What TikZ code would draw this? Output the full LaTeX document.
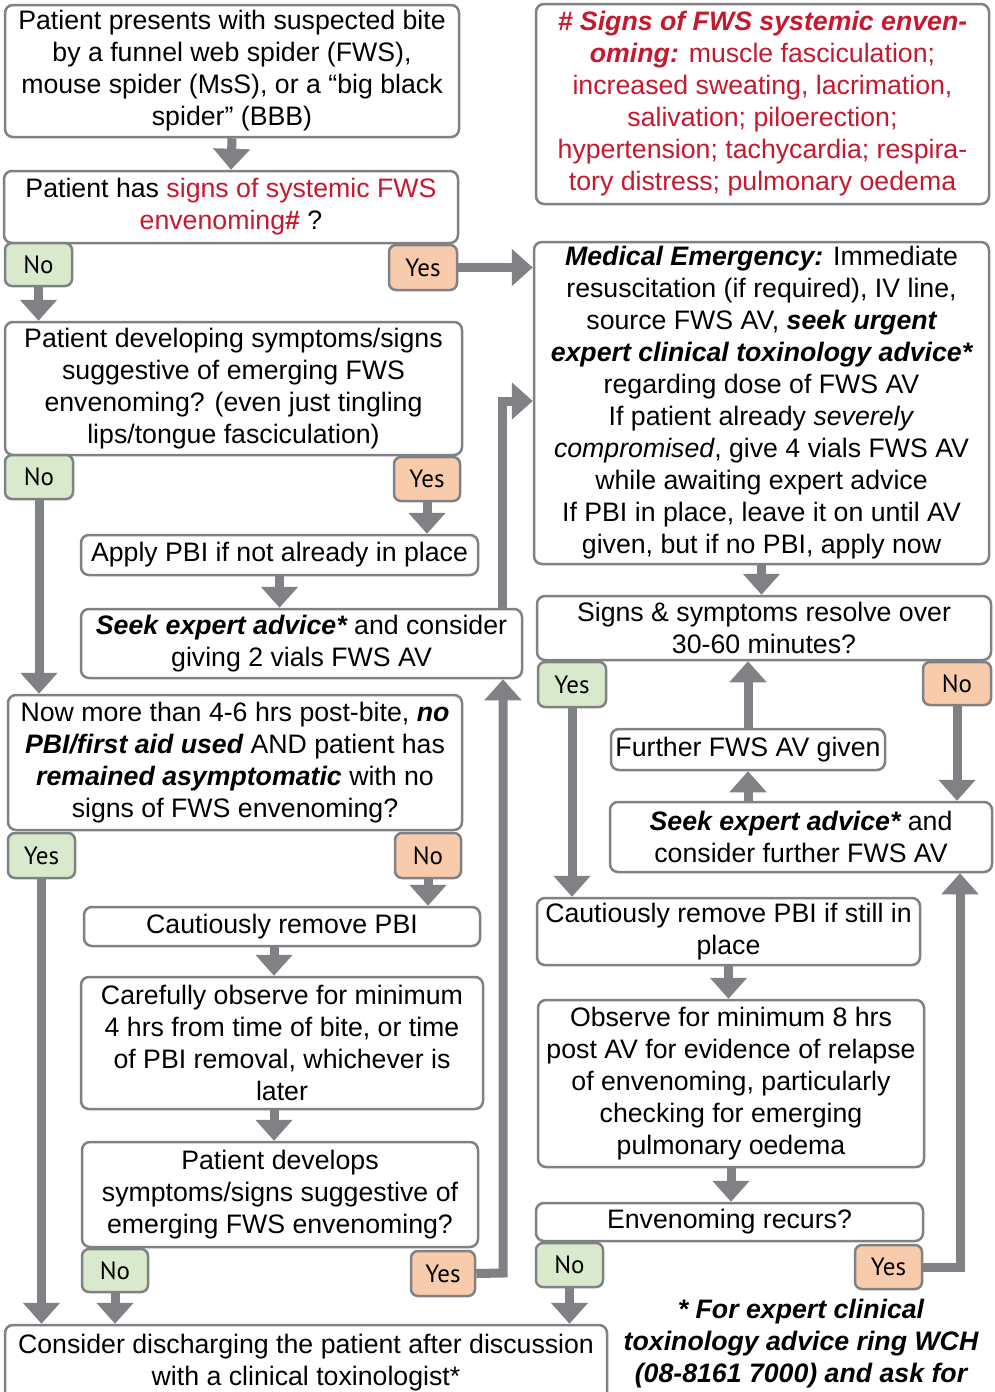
\documentclass[tikz,border=0pt]{standalone}
\usepackage{fontspec}
\setmainfont{Liberation Sans}
\newfontfamily\ynfont{PT Sans}
\usetikzlibrary{arrows.meta}
\definecolor{lg}{RGB}{128,129,132}
\definecolor{rd}{RGB}{200,24,46}
\definecolor{yesc}{RGB}{248,203,173}
\definecolor{noc}{RGB}{217,234,204}
\newcommand\bx[6]{\node[box,minimum width={#4-#2},minimum height={#5-#3}] (#1) at ({(#2+#4)/2},{(#3+#5)/2}) {#6};}
\newcommand\lb[7]{\node[lab,fill=#6,minimum width={#4-#2},minimum height={#5-#3}] (#1) at ({(#2+#4)/2},{(#3+#5)/2}) {#7};}
\newcommand\bi[1]{{\bfseries\itshape #1}}
\begin{document}
\begin{tikzpicture}[x=1pt,y=-1pt,
  box/.style={draw=lg, line width=2.5pt, rounded corners=8pt, fill=white, align=center, inner sep=1pt, font=\fontsize{26.7}{32}\selectfont},
  lab/.style={draw=lg, line width=2.5pt, rounded corners=7pt, inner sep=0pt, font=\ynfont\fontsize{25}{30}\selectfont},
  arr/.style={draw=lg, line width=9pt, -{Triangle[width=36pt,length=21pt]}, line join=miter}]
\useasboundingbox (0,0) rectangle (994,1392);
\clip (0,0) rectangle (994,1392);
\fill[white] (0,0) rectangle (994,1392);

% left column
\bx{B1}{5}{5}{459}{137}{Patient presents with suspected bite\\by a funnel web spider (FWS),\\mouse spider (MsS), or a “big black\\spider” (BBB)}
\bx{B2}{4}{171}{458}{243}{Patient has \textcolor{rd}{signs of systemic FWS}\\\textcolor{rd}{envenoming\textbf{\#}} ?}
\lb{N1}{5}{243}{72}{286}{noc}{No}
\lb{Y1}{389}{245}{457}{290}{yesc}{Yes}
\bx{B3}{5}{322}{462}{455}{Patient developing symptoms/signs\\suggestive of emerging FWS\\envenoming? (even just tingling\\lips/tongue fasciculation)}
\lb{N2}{5}{455}{73}{499}{noc}{No}
\lb{Y2}{394}{457}{460}{501}{yesc}{Yes}
\bx{B4}{81}{535}{478}{575}{Apply PBI if not already in place}
\bx{B5}{81}{609}{522}{678}{\bi{Seek expert advice*} and consider\\giving 2 vials FWS AV}
\bx{B6}{8}{695}{462}{830}{Now more than 4-6 hrs post-bite, \bi{no}\\\bi{PBI/first aid used} AND patient has\\\bi{remained asymptomatic} with no\\signs of FWS envenoming?}
\lb{Y3}{8}{833}{75}{878}{noc}{Yes}
\lb{N3}{395}{833}{461}{878}{yesc}{No}
\bx{B7}{84}{907}{480}{946}{Cautiously remove PBI}
\bx{B8}{81}{977}{483}{1109}{Carefully observe for minimum\\4 hrs from time of bite, or time\\of PBI removal, whichever is\\later}
\bx{B9}{82}{1142}{478}{1247}{Patient develops\\symptoms/signs suggestive of\\emerging FWS envenoming?}
\lb{N4}{82}{1249}{148}{1292}{noc}{No}
\lb{Y4}{411}{1251}{475}{1296}{yesc}{Yes}
\bx{B10}{5}{1325}{607}{1400}{Consider discharging the patient after discussion\\with a clinical toxinologist*}

% right column
\bx{SG}{536}{4}{989}{204}{\color{rd}\bi{\# Signs of FWS systemic enven-}\\\color{rd}\bi{oming:} muscle fasciculation;\\\color{rd}increased sweating, lacrimation,\\\color{rd}salivation; piloerection;\\\color{rd}hypertension; tachycardia; respira-\\\color{rd}tory distress; pulmonary oedema}
\bx{ME}{534}{242}{989}{564}{\bi{Medical Emergency:} Immediate\\resuscitation (if required), IV line,\\source FWS AV, \bi{seek urgent}\\\bi{expert clinical toxinology advice*}\\regarding dose of FWS AV\\If patient already \textit{severely}\\\textit{compromised}, give 4 vials FWS AV\\while awaiting expert advice\\If PBI in place, leave it on until AV\\given, but if no PBI, apply now}
\bx{B11}{537}{596}{991}{660}{Signs \& symptoms resolve over\\30-60 minutes?}
\lb{Y5}{538}{662}{606}{707}{noc}{Yes}
\lb{N5}{923}{662}{991}{705}{yesc}{No}
\bx{B12}{611}{729}{885}{770}{Further FWS AV given}
\bx{B13}{610}{802}{992}{872}{\bi{Seek expert advice*} and\\consider further FWS AV}
\bx{B14}{537}{898}{920}{965}{Cautiously remove PBI if still in\\place}
\bx{B15}{538}{1000}{924}{1167}{Observe for minimum 8 hrs\\post AV for evidence of relapse\\of envenoming, particularly\\checking for emerging\\pulmonary oedema}
\bx{B16}{536}{1203}{923}{1241}{Envenoming recurs?}
\lb{RN}{536}{1243}{603}{1287}{noc}{No}
\lb{RY}{855}{1245}{922}{1289}{yesc}{Yes}
\node[font=\bfseries\itshape\fontsize{26.7}{32}\selectfont, align=center] (FN) at (801,1344) {* For expert clinical\\toxinology advice ring WCH\\(08-8161 7000) and ask for};

% coordinates
\coordinate (k1) at (502,401);
\coordinate (k2) at (960,1267);
\coordinate (k3) at (503,1273);

% connectors
\draw[arr] (B1.south) -- (B2.north);
\draw[arr] (N1.south) -- (N1.south |- B3.north);
\draw[arr] (Y1.east) -- (Y1.east -| ME.west);
\draw[arr] (Y2.south) -- (Y2.south |- B4.north);
\draw[arr] (B4.south) -- (B4.south |- B5.north);
\draw[arr] (k1 |- B5.north) -- (k1) -- (k1 -| ME.west);
\draw[arr] (N2.south) -- (N2.south |- B6.north);
\draw[arr] (N3.south) -- (N3.south |- B7.north);
\draw[arr] ([xshift=-8pt]B7.south) -- ([xshift=-8pt]B7.south |- B8.north);
\draw[arr] ([xshift=-8pt]B8.south) -- ([xshift=-8pt]B8.south |- B9.north);
\draw[arr] (Y3.south) -- (Y3.south |- B10.north);
\draw[arr] (N4.south) -- (N4.south |- B10.north);
\draw[arr] (Y4.east) -- (k3) -- (k3 |- B5.south);
\draw[arr] (RN.south) -- (RN.south |- B10.north);
\draw[arr] (ME.south) -- (ME.south |- B11.north);
\draw[arr] (Y5.south) -- (Y5.south |- B14.north);
\draw[arr] (N5.south) -- (N5.south |- B13.north);
\draw[arr] (B12.north) -- (B12.north |- B11.south);
\draw[arr] (B12.south |- B13.north) -- (B12.south);
\draw[arr] (B14.south) -- (B14.south |- B15.north);
\draw[arr] (B15.south) -- (B15.south |- B16.north);
\draw[arr] (RY.east) -- (k2) -- (k2 |- B13.south);
\end{tikzpicture}
\end{document}
